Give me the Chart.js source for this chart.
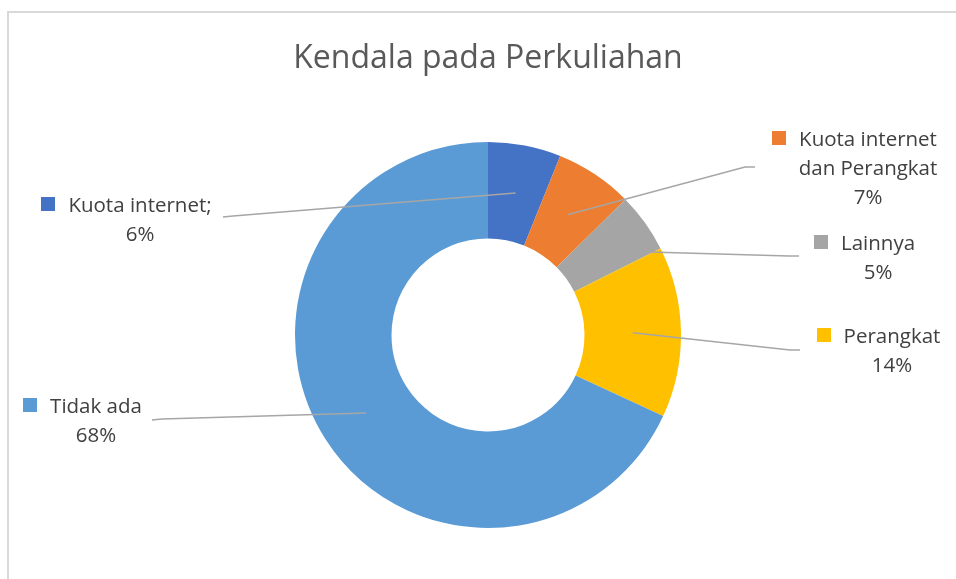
<!DOCTYPE html>
<html>
<head>
<meta charset="utf-8">
<script src="https://cdn.jsdelivr.net/npm/chart.js@4.4.0/dist/chart.umd.min.js"></script>
<style>
html,body{margin:0;padding:0;background:#fff;}
#wrap{width:956px;height:579px;position:relative;}
</style>
</head>
<body>
<div id="wrap"><canvas id="c" width="956" height="579"></canvas></div>
<script>
// ---- data ----
const chartTitle = 'Kendala pada Perkuliahan';
const categories = ['Kuota internet', 'Kuota internet dan Perangkat', 'Lainnya', 'Perangkat', 'Tidak ada'];
const labelLines = [['Kuota internet;'], ['Kuota internet', 'dan Perangkat'], ['Lainnya'], ['Perangkat'], ['Tidak ada']];
const values = [6.1, 6.5, 5.0, 14.3, 68.1];
const colors = ['#4472C4', '#ED7D31', '#A5A5A5', '#FFC000', '#5B9BD5'];

// ---- label layout (positions only) ----
const labelPos = [
  {cx: 140, y: 212, leader: [[223, 217], [233, 216]]},
  {cx: 868, y: 146, leader: [[755, 167], [745, 167]]},
  {cx: 878, y: 250, leader: [[799, 256], [789, 256]]},
  {cx: 892, y: 343, leader: [[800, 350], [790, 350]]},
  {cx: 96,  y: 413, leader: [[152, 420], [162, 419]]}
];
const FONT = '"Open Sans", "Noto Sans", sans-serif';

const framePlugin = {
  id: 'frame',
  beforeDraw(chart) {
    const ctx = chart.ctx;
    ctx.save();
    ctx.fillStyle = '#fff';
    ctx.fillRect(0, 0, chart.width, chart.height);
    ctx.fillStyle = '#D9D9D9';
    ctx.fillRect(7, 11, 2, chart.height - 11);
    ctx.fillRect(7, 11, chart.width - 7, 2);
    ctx.restore();
  }
};

const labelPlugin = {
  id: 'extLabels',
  afterDraw(chart) {
    const ctx = chart.ctx;
    ctx.save();
    // title
    ctx.font = '32px ' + FONT;
    ctx.fillStyle = '#595959';
    ctx.textAlign = 'center';
    ctx.textBaseline = 'alphabetic';
    ctx.fillText(chartTitle, 488, 68);

    const meta = chart.getDatasetMeta(0);
    const total = values.reduce((a, b) => a + b, 0);
    meta.data.forEach((arc, i) => {
      const p = labelPos[i];
      const c = arc.getCenterPoint();
      // leader line
      ctx.strokeStyle = '#A6A6A6';
      ctx.lineWidth = 1.5;
      ctx.beginPath();
      ctx.moveTo(p.leader[0][0], p.leader[0][1]);
      ctx.lineTo(p.leader[1][0], p.leader[1][1]);
      ctx.lineTo(c.x, c.y);
      ctx.stroke();
      // text
      ctx.font = '20.5px ' + FONT;
      ctx.fillStyle = '#404040';
      ctx.textAlign = 'center';
      const lines = labelLines[i].concat([Math.round(values[i] / total * 100) + '%']);
      lines.forEach((t, k) => ctx.fillText(t, p.cx, p.y + k * 29));
      // marker
      const w1 = ctx.measureText(lines[0]).width;
      ctx.fillStyle = colors[i];
      ctx.fillRect(Math.round(p.cx - w1 / 2 - 13 - 14), p.y - 15, 14, 14);
    });
    ctx.restore();
  }
};

new Chart(document.getElementById('c'), {
  type: 'doughnut',
  data: {
    labels: categories,
    datasets: [{
      data: values,
      backgroundColor: colors,
      borderWidth: 0
    }]
  },
  options: {
    responsive: false,
    animation: false,
    cutout: '50%',
    layout: {padding: {left: 295, right: 275, top: 142, bottom: 51}},
    plugins: {legend: {display: false}, tooltip: {enabled: false}, title: {display: false}}
  },
  plugins: [framePlugin, labelPlugin]
});
</script>
</body>
</html>
